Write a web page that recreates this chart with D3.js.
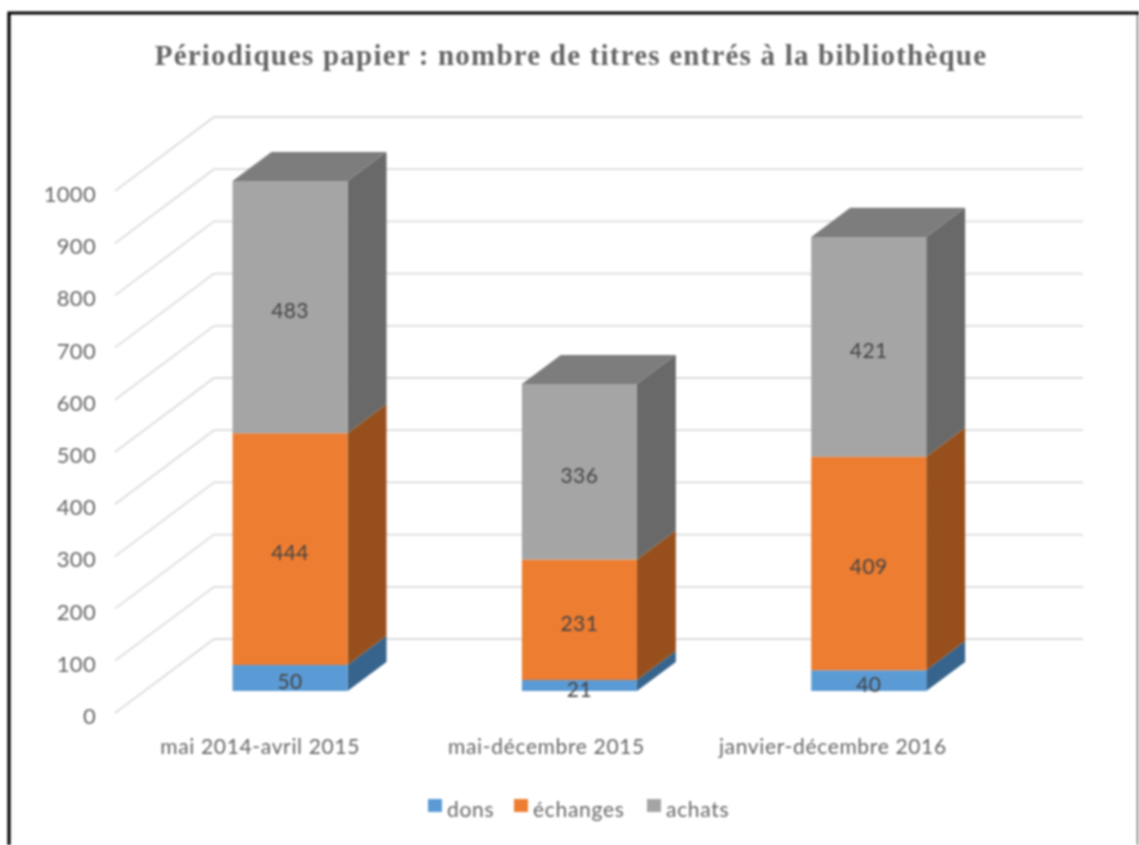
<!DOCTYPE html>
<html><head><meta charset="utf-8">
<script src="https://cdnjs.cloudflare.com/ajax/libs/d3/7.8.5/d3.min.js"></script>
<style>html,body{margin:0;padding:0;background:#fff;overflow:hidden}svg{display:block;filter:blur(.8px)}</style>
</head><body>
<script>
const titleText = "Périodiques papier : nombre de titres entrés à la bibliothèque";
const categories = ["mai 2014-avril 2015","mai-décembre 2015","janvier-décembre 2016"];
const seriesNames = ["dons","échanges","achats"];
const dons = [50,21,40];
const echanges = [444,231,409];
const achats = [483,336,421];
const yTicks = [0,100,200,300,400,500,600,700,800,900,1000];
const frontColors = ["#5b9bd5","#ed7d31","#a5a5a5"];
const sideColors = ["#37648c","#97501d","#696969"];
const topColor = "#7d7d7d";

const W=1139,H=845;
const svg=d3.select("body").append("svg").attr("width",W).attr("height",H);
// frame
svg.append("path").attr("d",`M${W-1.5},13V${H}`).attr("fill","none").attr("stroke","#666").attr("stroke-width",1.4);
svg.append("path").attr("d",`M9,${H}V13H${W}`).attr("fill","none").attr("stroke","#000").attr("stroke-width",3.2);

const x=d3.scaleBand().domain(categories).range([116,984]);
const xLabel=d3.scaleBand().domain(categories).range([117,976]);
const y=d3.scaleLinear().domain([0,1000]).range([713,191]);
// depth projection: z from 0 (front plane) to 1 (back wall)
const zx=d3.scaleLinear().domain([0,1]).range([0,99]);
const zy=d3.scaleLinear().domain([0,1]).range([0,-74]);
const P=(px,v,z)=>[px+zx(z),y(v)+zy(z)];
const poly=pts=>"M"+pts.map(p=>p.join(",")).join("L")+"Z";
const line=d3.line();

// gridlines
const g=svg.append("g").attr("fill","none").attr("stroke","#dcdcdc").attr("stroke-width",1.8);
yTicks.forEach(t=>{
  g.append("path").attr("d",line([P(115,t,0),P(115,t,1),P(984,t,1)]));
});
// y labels
svg.append("g").selectAll("text").data(yTicks).join("text")
  .attr("x",96).attr("y",d=>y(d)+11).attr("text-anchor","end")
  .attr("font-family","Lato").attr("font-size",22).attr("letter-spacing",0.3).attr("fill","#666").text(d=>d);

// bars
const z0=0.297,z1=0.69,barW=115;
const stackData=categories.map((c,i)=>({c,dons:dons[i],echanges:echanges[i],achats:achats[i]}));
const keys=["dons","echanges","achats"];
const series=d3.stack().keys(keys)(stackData);
const bars=svg.append("g");
series.forEach((s,si)=>{
  s.forEach((d,i)=>{
    const cx=x(categories[i])+x.bandwidth()/2;
    const l=cx-barW/2,r=cx+barW/2;
    const [a,b]=d;
    bars.append("path").attr("fill",sideColors[si]).attr("d",poly([P(r,a,z0),P(r,a,z1),P(r,b,z1),P(r,b,z0)]));
    bars.append("path").attr("fill",frontColors[si]).attr("d",poly([P(l,a,z0),P(r,a,z0),P(r,b,z0),P(l,b,z0)]));
    if(si===2) bars.append("path").attr("fill",topColor).attr("d",poly([P(l,b,z0),P(r,b,z0),P(r,b,z1),P(l,b,z1)]));
  });
});
// data labels
series.forEach(s=>s.forEach((d,i)=>{
  const cx=x(categories[i])+x.bandwidth()/2;
  const v=d[1]-d[0];
  const p=P(cx,(d[0]+d[1])/2,z0);
  bars.append("text").attr("x",p[0]).attr("y",p[1]+11).attr("text-anchor","middle")
    .attr("font-family","Lato").attr("font-size",21).attr("letter-spacing",0.4).attr("fill","#444").text(v);
}));
// category labels
svg.append("g").selectAll("text").data(categories).join("text")
  .attr("x",d=>xLabel(d)+xLabel.bandwidth()/2).attr("y",754).attr("text-anchor","middle")
  .attr("font-family","Lato").attr("font-size",21).attr("letter-spacing",0.65).attr("fill","#666").text(d=>d);
// title
svg.append("text").attr("x",571).attr("y",65).attr("text-anchor","middle")
  .attr("font-family","Liberation Serif").attr("font-weight","bold").attr("font-size",29).attr("letter-spacing",1.2).attr("fill","#666").text(titleText);
// legend
const legendX=d3.scaleOrdinal().domain(seriesNames).range([428,514,647]);
const lg=svg.append("g").selectAll("g").data(seriesNames).join("g").attr("transform",d=>`translate(${legendX(d)},0)`);
lg.append("rect").attr("y",799).attr("width",14).attr("height",13).attr("fill",(d,i)=>frontColors[i]);
lg.append("text").attr("x",19).attr("y",817).attr("font-family","Lato").attr("font-size",21).attr("letter-spacing",0.7).attr("fill","#666").text(d=>d);
</script>
</body></html>
